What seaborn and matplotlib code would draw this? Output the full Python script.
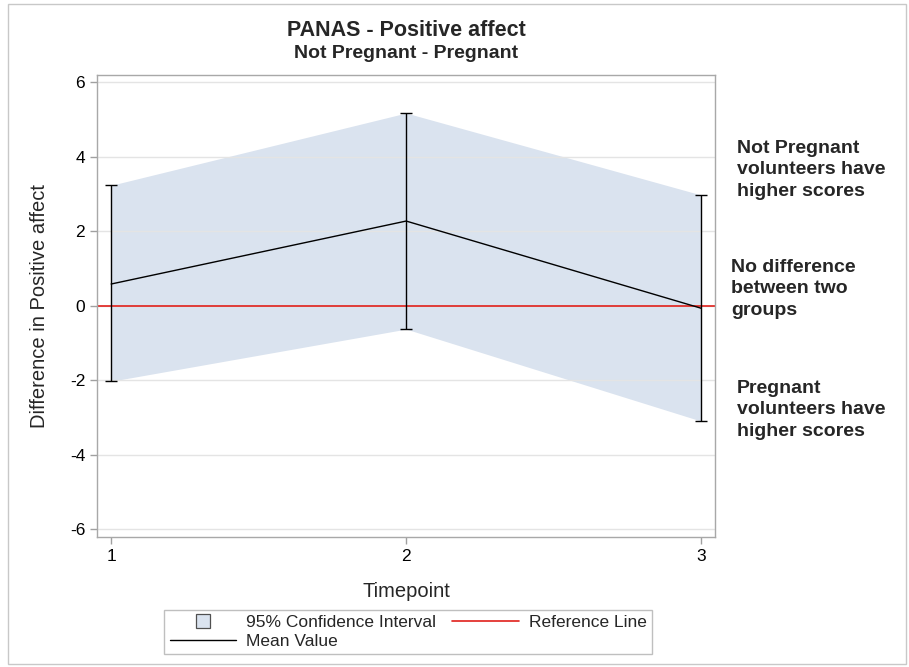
import numpy as np
import pandas as pd
import matplotlib
matplotlib.use("Agg")
import matplotlib.pyplot as plt
import seaborn as sns
from matplotlib.patches import Rectangle
from matplotlib.lines import Line2D

timepoints = [1, 2, 3]
mean_diff = [0.58, 2.27, -0.07]
ci_upper = [3.23, 5.17, 2.97]
ci_lower = [-2.03, -0.63, -3.10]
y_ticks = [-6, -4, -2, 0, 2, 4, 6]

df = pd.DataFrame({"Timepoint": timepoints, "Mean": mean_diff,
                   "Upper": ci_upper, "Lower": ci_lower})

sns.set_style("white")
plt.rcParams["font.family"] = ["Liberation Sans", "DejaVu Sans"]
plt.rcParams["axes.unicode_minus"] = False

fig = plt.figure(figsize=(9.09, 6.67), dpi=100)
ax = fig.add_axes([97 / 909, 1 - 537 / 667, (715 - 97) / 909, (537 - 75) / 667])

ax.fill_between(df["Timepoint"], df["Lower"], df["Upper"], color="#dae3ef",
                linewidth=0, zorder=1)
for y in y_ticks:
    ax.axhline(y, color="#e4e4e4", linewidth=1, zorder=1.5)
ax.axhline(0, color="#e0201b", linewidth=1.2, zorder=2)
sns.lineplot(data=df, x="Timepoint", y="Mean", color="black", linewidth=1,
             ax=ax, zorder=3)
ax.errorbar(df["Timepoint"], df["Mean"],
            yerr=[df["Mean"] - df["Lower"], df["Upper"] - df["Mean"]],
            fmt="none", ecolor="black", elinewidth=1, capsize=4, capthick=1,
            zorder=3)

ax.set_xlim(0.952, 3.047)
ax.set_ylim(-6.21, 6.19)
ax.set_xticks(timepoints)
ax.set_yticks(y_ticks)
ax.tick_params(axis="both", length=5, width=1, color="#a0a0a0",
               labelsize=12.5, labelcolor="black", direction="out",
               bottom=True, left=True)
for s in ax.spines.values():
    s.set_color("#a8a8a8")
    s.set_linewidth(1)
ax.set_xlabel("Timepoint", fontsize=14.5)
ax.xaxis.set_label_coords(0.5, -0.098)
ax.set_ylabel("Difference in Positive affect", fontsize=14.5)
ax.yaxis.set_label_coords(-0.078, 0.5)

fig.text(406 / 909, 1 - 31 / 667, "PANAS - Positive affect", ha="center",
         va="center", fontsize=15.5, fontweight="bold")
fig.text(406 / 909, 1 - 54 / 667, "Not Pregnant - Pregnant", ha="center",
         va="center", fontsize=14, fontweight="bold")

note_kw = dict(ha="left", va="center", fontsize=14, fontweight="bold",
               linespacing=1.38)
fig.text(737 / 909, 1 - 170 / 667,
         "Not Pregnant\nvolunteers have\nhigher scores", **note_kw)
fig.text(731 / 909, 1 - 289 / 667,
         "No difference\nbetween two\ngroups", **note_kw)
fig.text(737 / 909, 1 - 410 / 667,
         "Pregnant\nvolunteers have\nhigher scores", **note_kw)

handles = [
    Line2D([], [], linestyle="none", marker="s", markersize=9.5,
           markerfacecolor="#dae3ef", markeredgecolor="#505050",
           markeredgewidth=0.9, label="95% Confidence Interval"),
    Line2D([], [], color="black", linewidth=1, label="Mean Value"),
    Line2D([], [], color="#e0201b", linewidth=1.2, label="Reference Line"),
]
leg = fig.legend(handles=handles, loc="center", ncol=2,
                 bbox_to_anchor=(408 / 909, 1 - 632 / 667), fontsize=12.5,
                 frameon=True, fancybox=False, edgecolor="#b0b0b0",
                 handlelength=3.85, columnspacing=0.9, labelspacing=0.22,
                 borderpad=0.3, borderaxespad=0, handletextpad=0.57)
leg.get_frame().set_linewidth(1)

fig.add_artist(Rectangle((8 / 909, 3 / 667), 1 - 11 / 909, 1 - 7 / 667,
                         transform=fig.transFigure, fill=False,
                         edgecolor="#c8c8c8", linewidth=1))

fig.savefig("out.png", dpi=100)
